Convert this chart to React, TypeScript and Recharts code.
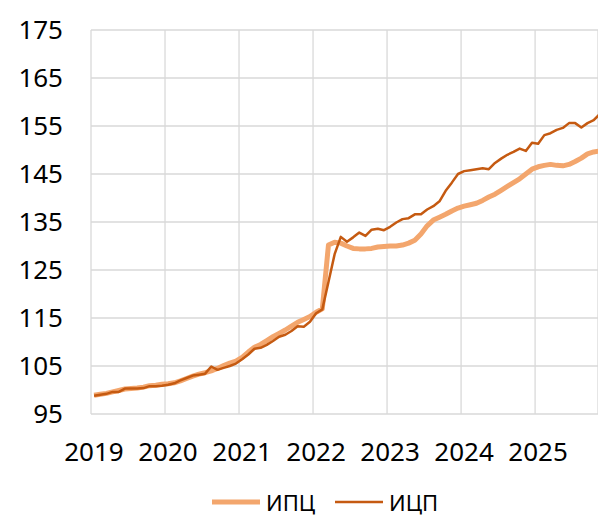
import React from "react"
import { LineChart, Line, XAxis, YAxis, CartesianGrid, Legend } from "recharts"

// monthly index values, Jan 2019 .. Nov 2025
const cpi = [
  98.9, 99.1, 99.3, 99.6, 99.9, 100.2, 100.3, 100.4, 100.6, 100.9, 101.0, 101.2,
  101.3, 101.5, 101.9, 102.4, 102.9, 103.3, 103.6, 104.0, 104.5, 105.1, 105.6, 106.0,
  106.8, 107.9, 108.9, 109.5, 110.3, 111.1, 111.8, 112.5, 113.3, 114.1, 114.7, 115.3,
  116.2, 116.9, 130.2, 130.8, 130.6, 130.0, 129.5, 129.4, 129.4, 129.5, 129.8, 129.9,
  130.0, 130.0, 130.2, 130.6, 131.2, 132.5, 134.2, 135.4, 136.0, 136.6, 137.3, 137.9,
  138.3, 138.6, 138.9, 139.5, 140.2, 140.8, 141.6, 142.4, 143.2, 144.0, 145.0, 146.0,
  146.5, 146.8, 147.0, 146.8, 146.7, 147.0, 147.6, 148.3, 149.2, 149.6, 149.8,
]

const ppi = [
  98.8, 99.0, 99.2, 99.6, 99.6, 100.3, 100.3, 100.3, 100.4, 100.8, 100.8, 100.9,
  101.1, 101.4, 102.0, 102.5, 103.0, 103.2, 103.4, 104.9, 104.2, 104.6, 105.0, 105.5,
  106.4, 107.4, 108.6, 108.8, 109.4, 110.2, 111.1, 111.5, 112.3, 113.3, 113.2, 114.2,
  116.0, 116.8, 122.5, 128.3, 131.9, 130.9, 131.8, 132.8, 132.1, 133.4, 133.6, 133.3,
  134.0, 134.9, 135.6, 135.8, 136.6, 136.6, 137.6, 138.3, 139.3, 141.5, 143.2, 145.0,
  145.6, 145.8, 146.0, 146.2, 146.0, 147.3, 148.2, 149.0, 149.6, 150.3, 149.8, 151.5,
  151.3, 153.1, 153.5, 154.2, 154.6, 155.6, 155.6, 154.7, 155.6, 156.2, 157.5,
]

const years = ["2019", "2020", "2021", "2022", "2023", "2024", "2025"]
const yTicks = [95, 105, 115, 125, 135, 145, 155, 165, 175]

const LIGHT = "#F3A66D"
const DARK = "#C55A11"
const FONT = "'Noto Sans', sans-serif"

// month position in the middle of its category
const data = cpi.map((v, i) => ({ t: i + 0.5, cpi: v, ppi: ppi[i] }))
const xTicks = years.map((_, i) => i * 12)

function LegendBox() {
  const items = [
    { name: "ИПЦ", color: LIGHT, width: 5 },
    { name: "ИЦП", color: DARK, width: 2.5 },
  ]
  return (
    <div style={{ height: 30, display: "flex", alignItems: "center", paddingLeft: 212, fontFamily: FONT, fontSize: 22, color: "#000" }}>
      {items.map((it, i) => (
        <div key={it.name} style={{ display: "flex", alignItems: "center", marginRight: i === 0 ? 20 : 0 }}>
          <svg width={48} height={10} style={{ marginRight: 6 }}>
            <line x1={0} y1={5} x2={48} y2={5} stroke={it.color} strokeWidth={it.width} />
          </svg>
          <span>{it.name}</span>
        </div>
      ))}
    </div>
  )
}

export default function App() {
  return (
    <div style={{ position: "absolute", left: 0, top: 0, width: 598, height: 517, background: "#fff" }}>
      <LineChart width={598} height={517} data={data} margin={{ top: 30, right: 0, bottom: 0, left: 0 }}>
        <CartesianGrid stroke="#d9d9d9" strokeWidth={1.3} verticalPoints={undefined} />
        <XAxis
          dataKey="t"
          type="number"
          domain={[0, 82.2]}
          allowDataOverflow
          ticks={xTicks}
          tickFormatter={(v: number) => years[Math.round(v / 12)]}
          axisLine={false}
          tickLine={false}
          tickSize={0}
          tickMargin={29}
          height={73}
          dx={3}
          tick={{ fill: "#000", fontSize: 26, fontFamily: FONT }}
        />
        <YAxis
          type="number"
          domain={[95, 175]}
          ticks={yTicks}
          axisLine={false}
          tickLine={false}
          tickSize={0}
          tickMargin={28}
          width={91}
          tick={{ fill: "#000", fontSize: 26, fontFamily: FONT }}
        />
        <Legend verticalAlign="bottom" content={() => <LegendBox />} />
        <Line
          dataKey="cpi"
          name="ИПЦ"
          type="linear"
          stroke={LIGHT}
          strokeWidth={5}
          dot={false}
          strokeLinejoin="round"
          isAnimationActive={false}
        />
        <Line
          dataKey="ppi"
          name="ИЦП"
          type="linear"
          stroke={DARK}
          strokeWidth={2.5}
          dot={false}
          strokeLinejoin="round"
          isAnimationActive={false}
        />
      </LineChart>
    </div>
  )
}
